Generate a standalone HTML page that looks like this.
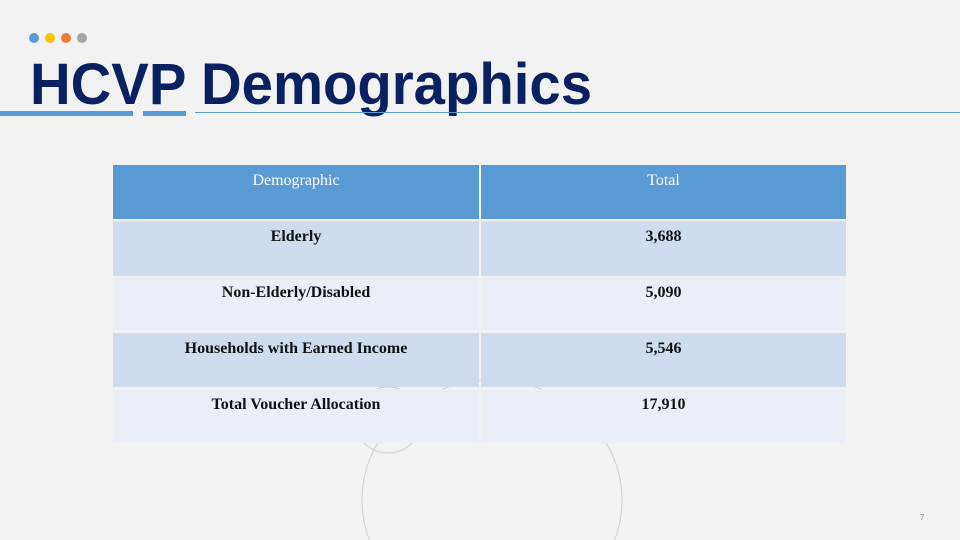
<!DOCTYPE html>
<html style="overflow:hidden;width:960px;height:540px"><head><meta charset="utf-8"><style>
html,body{margin:0;padding:0}
body{width:960px;height:540px;background:#f2f2f2;position:relative;overflow:hidden;font-family:"Liberation Serif",serif}
.c{position:absolute;box-sizing:border-box;text-align:center;font-size:16px;padding-top:7px;color:#111;font-weight:bold}
</style></head><body>
<svg width="960" height="540" style="position:absolute;left:0;top:0;display:block">
<path d="M369.4,540 A130,120 0 1,1 614.6,540" fill="none" stroke="#cfcfcf" stroke-width="1"/>
<ellipse cx="388" cy="420" rx="33" ry="33" fill="none" stroke="#cfcfcf" stroke-width="1"/>
<circle cx="34" cy="38" r="5" fill="#5b9bd5"/>
<circle cx="50" cy="38" r="5" fill="#ffc000"/>
<circle cx="66" cy="38" r="5" fill="#ed7d31"/>
<circle cx="82" cy="38" r="5" fill="#a5a5a5"/>
<text x="30" y="104" textLength="562" lengthAdjust="spacingAndGlyphs" font-family="Liberation Sans, sans-serif" font-weight="bold" font-size="58" fill="#0b2060">HCVP Demographics</text>
<rect x="0" y="111" width="133" height="5" fill="#5b9bd5"/>
<rect x="143" y="111" width="43" height="5" fill="#5b9bd5"/>
<rect x="195" y="112" width="765" height="1" fill="#5b9bd5"/>
<text x="920" y="520" font-size="8" fill="#888" font-family="Liberation Sans, sans-serif">7</text>
</svg>
<div>
<div class="c" style="left:113px;top:165px;width:366px;height:54px;background:#5b9bd5;color:#fff;font-weight:normal">Demographic</div>
<div class="c" style="left:481px;top:165px;width:365px;height:54px;background:#5b9bd5;color:#fff;font-weight:normal">Total</div>
<div class="c" style="left:113px;top:221px;width:366px;height:55px;background:#cfdcee">Elderly</div>
<div class="c" style="left:481px;top:221px;width:365px;height:55px;background:#cfdcee">3,688</div>
<div class="c" style="left:113px;top:277px;width:366px;height:54px;background:#e9eef7">Non-Elderly/Disabled</div>
<div class="c" style="left:481px;top:277px;width:365px;height:54px;background:#e9eef7">5,090</div>
<div class="c" style="left:113px;top:333px;width:366px;height:54px;background:#cfdcee">Households with Earned Income</div>
<div class="c" style="left:481px;top:333px;width:365px;height:54px;background:#cfdcee">5,546</div>
<div class="c" style="left:113px;top:389px;width:366px;height:54px;background:#e9eef7">Total Voucher Allocation</div>
<div class="c" style="left:481px;top:389px;width:365px;height:54px;background:#e9eef7">17,910</div>
</div>
</body></html>
